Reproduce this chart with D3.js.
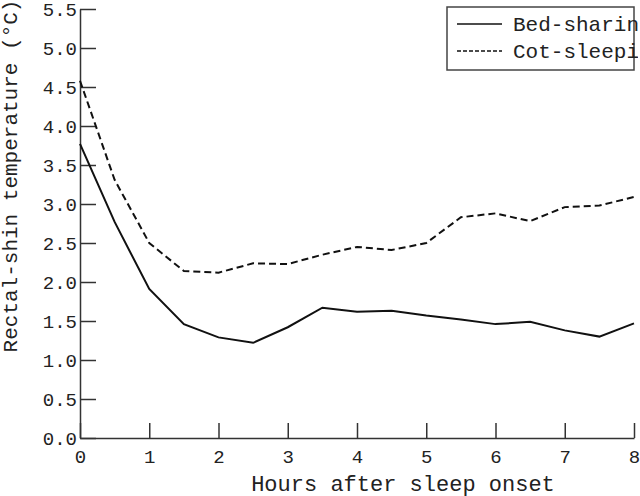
<!DOCTYPE html>
<html>
<head>
<meta charset="utf-8">
<script src="https://cdn.jsdelivr.net/npm/d3@7"></script>
<style>
  body { margin: 0; background: #fff; }
  text { font-family: "Liberation Mono", "Courier New", monospace; fill: #222; }
</style>
</head>
<body>
<div class="canvas"></div>
<script>
// data
const hours = [0, 0.5, 1, 1.5, 2, 2.5, 3, 3.5, 4, 4.5, 5, 5.5, 6, 6.5, 7, 7.5, 8];
const bedSharing = [3.77, 2.77, 1.91, 1.46, 1.29, 1.22, 1.42, 1.67, 1.62, 1.63, 1.57, 1.52, 1.46, 1.49, 1.38, 1.30, 1.47];
const cotSleeping = [4.58, 3.31, 2.50, 2.14, 2.12, 2.24, 2.23, 2.35, 2.45, 2.41, 2.50, 2.83, 2.88, 2.78, 2.96, 2.98, 3.09];
const seriesNames = ['Bed-sharing', 'Cot-sleeping'];
const xTicks = [0, 1, 2, 3, 4, 5, 6, 7, 8];
const yTicks = [0, 0.5, 1, 1.5, 2, 2.5, 3, 3.5, 4, 4.5, 5, 5.5];

const dims = { width: 640, height: 496 };
const plot = { left: 80, right: 634, top: 9, bottom: 438 };

const svg = d3.select('.canvas')
    .append('svg')
    .attr('width', dims.width)
    .attr('height', dims.height);

const x = d3.scaleLinear().domain([0, 8]).range([plot.left, plot.right]);
const y = d3.scaleLinear().domain([0, 5.5]).range([plot.bottom, plot.top]);

// axes - ticks point inwards
const xAxis = svg.append('g')
    .attr('transform', `translate(0, ${plot.bottom})`)
    .call(d3.axisBottom(x).tickValues(xTicks).tickSizeInner(-15).tickSizeOuter(0));

xAxis.selectAll('text')
    .attr('dy', null)
    .attr('y', 25)
    .style('font-size', '19px');

const yAxis = svg.append('g')
    .attr('transform', `translate(${plot.left}, 0)`)
    .call(d3.axisLeft(y).tickValues(yTicks).tickFormat(d3.format('.1f')).tickSizeInner(-16).tickSizeOuter(0));

yAxis.selectAll('text')
    .attr('x', -3)
    .style('font-size', '19px');

svg.selectAll('.domain, .tick line')
    .attr('stroke', '#333')
    .attr('stroke-width', 1.5);

// axis titles
svg.append('text')
    .attr('x', 403)
    .attr('y', 491)
    .attr('text-anchor', 'middle')
    .style('font-size', '22px')
    .text('Hours after sleep onset');

svg.append('text')
    .attr('transform', 'translate(17, 176) rotate(-90)')
    .attr('text-anchor', 'middle')
    .style('font-size', '21px')
    .text('Rectal-shin temperature (°C)');

// lines
const line = d3.line()
    .x((d, i) => x(hours[i]))
    .y(d => y(d));

svg.append('path')
    .attr('d', line(bedSharing))
    .attr('fill', 'none')
    .attr('stroke', '#111')
    .attr('stroke-width', 2);

svg.append('path')
    .attr('d', line(cotSleeping))
    .attr('fill', 'none')
    .attr('stroke', '#111')
    .attr('stroke-width', 2)
    .attr('stroke-dasharray', '7,4');

// legend (cut off at the right edge like the original)
svg.append('clipPath')
    .attr('id', 'legendClip')
    .append('rect')
    .attr('x', 0).attr('y', 0)
    .attr('width', 638).attr('height', dims.height);

const legendGroup = svg.append('g')
    .attr('clip-path', 'url(#legendClip)');

legendGroup.append('rect')
    .attr('x', 447).attr('y', 7)
    .attr('width', 187).attr('height', 63)
    .attr('fill', '#fff')
    .attr('stroke', '#444')
    .attr('stroke-width', 1.5);

const dashes = [null, '4,2'];
seriesNames.forEach((name, i) => {
    const ly = 24 + i * 27;
    legendGroup.append('line')
        .attr('x1', 457).attr('x2', 502)
        .attr('y1', ly).attr('y2', ly)
        .attr('stroke', '#111')
        .attr('stroke-width', 1.5)
        .attr('stroke-dasharray', dashes[i]);
    legendGroup.append('text')
        .attr('x', 513)
        .attr('y', ly + 7)
        .style('font-size', '21px')
        .text(name);
});
</script>
</body>
</html>
